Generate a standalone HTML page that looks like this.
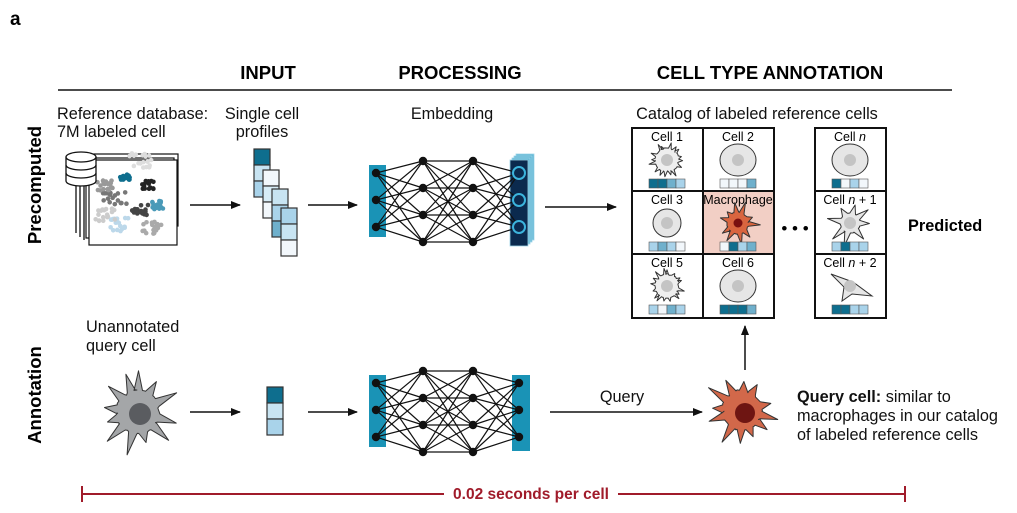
<!DOCTYPE html>
<html><head><meta charset="utf-8"><style>
body{margin:0;background:#fff;width:1017px;height:513px;overflow:hidden}
svg{display:block;font-family:"Liberation Sans",Arial,sans-serif}
</style></head><body>
<svg id="s" width="1017" height="513" viewBox="0 0 1017 513">
<defs><marker id="ah" markerWidth="10" markerHeight="8" refX="9" refY="4" orient="auto" markerUnits="userSpaceOnUse"><path d="M0,0 L10,4 L0,8 z" fill="#111"/></marker></defs>
<text x="10" y="25" font-size="19" font-weight="bold">a</text>
<line x1="58" y1="90" x2="952" y2="90" stroke="#111" stroke-width="1.5"/>
<g font-size="18.5" font-weight="bold" text-anchor="middle">
<text x="268" y="79">INPUT</text><text x="460" y="79">PROCESSING</text><text x="770" y="79">CELL TYPE ANNOTATION</text></g>
<g font-size="18.5" font-weight="bold" text-anchor="middle">
<text transform="translate(41,185) rotate(-90)">Precomputed</text>
<text transform="translate(41,395) rotate(-90)">Annotation</text></g>
<g font-size="16.3" fill="#111">
<text x="57" y="119">Reference database:</text><text x="57" y="137">7M labeled cell</text>
<text x="262" y="119" text-anchor="middle">Single cell</text><text x="262" y="137" text-anchor="middle">profiles</text>
<text x="452" y="119" text-anchor="middle">Embedding</text>
<text x="757" y="119" text-anchor="middle">Catalog of labeled reference cells</text>
<text x="86" y="332">Unannotated</text><text x="86" y="351">query cell</text>
<text x="622" y="402" text-anchor="middle">Query</text>
<text x="797" y="402"><tspan font-weight="bold">Query cell:</tspan> similar to</text>
<text x="797" y="421">macrophages in our catalog</text>
<text x="797" y="440">of labeled reference cells</text>
</g>
<text x="908" y="231" font-size="16.3" font-weight="bold">Predicted</text>
<text x="795" y="234" font-size="17" text-anchor="middle">• • •</text>
<g stroke="#111" fill="#fff" stroke-width="1.2">
<rect x="94" y="154" width="84" height="72"/><rect x="90" y="158" width="84" height="74"/><rect x="86" y="162" width="84" height="76"/><rect x="89" y="160" width="88" height="85"/>
</g>
<g id="scatter"></g>
<g stroke="#111" fill="#fff" stroke-width="1.3">
<line x1="76" y1="185" x2="76" y2="233"/><line x1="80" y1="185" x2="80" y2="237"/><line x1="84" y1="185" x2="84" y2="240"/>
<path d="M66,157 v24 a15,5 0 0 0 30,0 v-24"/><ellipse cx="81" cy="157" rx="15" ry="5"/>
<path d="M66,165 a15,5 0 0 0 30,0 M66,173 a15,5 0 0 0 30,0" fill="none"/>
</g>
<g stroke="#111" stroke-width="1.5" marker-end="url(#ah)">
<line x1="190" y1="205" x2="240" y2="205"/><line x1="308" y1="205" x2="357" y2="205"/><line x1="545" y1="207" x2="616" y2="207"/>
<line x1="190" y1="412" x2="240" y2="412"/><line x1="308" y1="412" x2="357" y2="412"/><line x1="550" y1="412" x2="702" y2="412"/>
<line x1="745" y1="370" x2="745" y2="326"/>
</g>
<g id="prof" stroke="#333" stroke-width="1.2"></g>
<g id="nets"></g>
<g id="grid"></g>
<g id="cells"></g>
<line x1="82" y1="494" x2="905" y2="494" stroke="#a01b2a" stroke-width="2"/>
<line x1="82" y1="486" x2="82" y2="502" stroke="#a01b2a" stroke-width="2"/>
<line x1="905" y1="486" x2="905" y2="502" stroke="#a01b2a" stroke-width="2"/>
<rect x="444" y="484" width="174" height="20" fill="#fff"/>
<text x="531" y="499" font-size="15.5" font-weight="bold" fill="#a01b2a" text-anchor="middle">0.02 seconds per cell</text>
</svg>
<script>
var NS="http://www.w3.org/2000/svg";
function el(p,t,a){var e=document.createElementNS(NS,t);for(var k in a)e.setAttribute(k,a[k]);document.getElementById(p).appendChild(e);return e;}
var seed=3;function rnd(){seed=(seed*9301+49297)%233280;return seed/233280;}
var cl=[[125,178,"#0e6e8e",5],[148,185,"#222",6],[140,160,"#ddd",12],[115,200,"#777",12],[140,210,"#444",8],[158,205,"#4a9ab8",6],[120,225,"#bcd8ea",10],[152,228,"#aaa",10],[105,185,"#999",8],[105,215,"#ccc",10]];
cl.forEach(function(c){for(var i=0;i<18;i++)el("scatter","circle",{cx:c[0]+(rnd()-.5)*c[3]*2,cy:c[1]+(rnd()-.5)*c[3]*1.4,r:2.3,fill:c[2]});});
function col(x,y,cs){cs.forEach(function(c,i){el("prof","rect",{x:x,y:y+i*16,width:16,height:16,fill:c});});}
col(254,149,["#0e6e8e","#c8e4f2","#a9d3ea"]);col(263,170,["#f2f7fb","#d7ecf6","#f2f7fb"]);col(272,189,["#c8e4f2","#a9d3ea","#6fb0cc"]);col(281,208,["#a9d3ea","#c8e4f2","#f2f7fb"]);
col(267,387,["#0e6e8e","#c8e4f2","#a9d3ea"]);
function net(dy,stack){
 var L=[[376,[173,200,227]],[423,[161,188,215,242]],[473,[161,188,215,242]],[519,[173,200,227]]];
 el("nets","rect",{x:369,y:165+dy,width:17,height:72,fill:"#1a93b6"});
 if(stack){for(var i=3;i>=0;i--)el("nets","rect",{x:510+i*2,y:160+dy-i*2,width:18,height:86,fill:i?"#5fb7d4":"#0b2a4e",stroke:"#9dd4e8","stroke-width":0.8});}
 else el("nets","rect",{x:512,y:165+dy,width:18,height:76,fill:"#1a93b6"});
 for(var l=0;l<3;l++)L[l][1].forEach(function(a){L[l+1][1].forEach(function(b){el("nets","line",{x1:L[l][0],y1:a+dy,x2:L[l+1][0],y2:b+dy,stroke:"#111","stroke-width":1.2});});});
 L.forEach(function(ly,li){ly[1].forEach(function(y){if(li==3&&stack){el("nets","circle",{cx:ly[0],cy:y+dy,r:6,fill:"#0b2a4e",stroke:"#3cb4dc","stroke-width":2});}else el("nets","circle",{cx:ly[0],cy:y+dy,r:4.2,fill:"#111"});});});
}
net(0,true);net(210,false);
el("grid","rect",{x:703,y:191,width:71,height:63,fill:"#f2cfc5"});
[[632,774],[815,886]].forEach(function(g){
 el("grid","rect",{x:g[0],y:128,width:g[1]-g[0],height:190,fill:"none",stroke:"#111","stroke-width":2});
 el("grid","line",{x1:g[0],y1:191,x2:g[1],y2:191,stroke:"#111","stroke-width":2});
 el("grid","line",{x1:g[0],y1:254,x2:g[1],y2:254,stroke:"#111","stroke-width":2});
});
el("grid","line",{x1:703,y1:128,x2:703,y2:318,stroke:"#111","stroke-width":2});
var P={d:"#0e6e8e",m:"#6fb0cc",l:"#a9d3ea",w:"#f2f7fb"};
var cells=[[667,128,"Cell 1","ddml",1],[738,128,"Cell 2","wwwm",2],[850,128,"Cell <tspan font-style='italic'>n</tspan>","dwlw",2],
[667,191,"Cell 3","lmlw",3],[738,191,"Macrophage","wdlm",4],[850,191,"Cell <tspan font-style='italic'>n</tspan> + 1","ldll",5],
[667,254,"Cell 5","lwml",1],[738,254,"Cell 6","dddm",6],[850,254,"Cell <tspan font-style='italic'>n</tspan> + 2","ddll",7]];
function spiky(cx,cy,r,n,amp,fill,w){w=w||0.12;var s="";for(var i=0;i<n;i++){var a=i*2*Math.PI/n+rnd()*0.3,len=amp*(0.5+rnd()*0.8);
 function p(ang,rr){s+=(cx+rr*Math.cos(ang)).toFixed(1)+","+(cy+rr*Math.sin(ang)).toFixed(1)+" ";}
 p(a-w*1.5,r);p(a,r+len);p(a+w*1.5,r);p(a+Math.PI/n,r*(0.9+rnd()*0.15));}
 return el("cells","polygon",{points:s,fill:fill,stroke:"#333","stroke-width":1,"stroke-linejoin":"round"});}
cells.forEach(function(c){
 var t=el("cells","text",{x:c[0],y:c[1]+13,"font-size":"12.5","text-anchor":"middle"});t.innerHTML=c[2];
 var cx=c[0],cy=c[1]+32;
 if(c[4]==1)spiky(cx,cy,12,16,5,"#eee",0.08);
 else if(c[4]==3)el("cells","circle",{cx:cx,cy:cy,r:14,fill:"#e6e6e6",stroke:"#333"});
 else if(c[4]==4)spiky(cx,cy,11,10,9,"#d9653f",0.15);
 else if(c[4]==5)spiky(cx,cy,10,8,11,"#e6e6e6",0.2);
 else if(c[4]==7)el("cells","path",{d:"M"+(cx-19)+","+(cy-12)+" L"+(cx+3)+","+(cy-4)+" L"+(cx+22)+","+(cy+10)+" L"+(cx+2)+","+(cy+8)+" L"+(cx-8)+","+(cy+15)+" L"+(cx-6)+","+(cy+1)+"z",fill:"#e6e6e6",stroke:"#333"});
 else el("cells","ellipse",{cx:cx,cy:cy,rx:18,ry:16,fill:"#e6e6e6",stroke:"#333"});
 el("cells","circle",{cx:cx,cy:cy,r:c[4]==4?4.5:6,fill:c[4]==4?"#7a1010":"#c4c4c4"});
 for(var i=0;i<4;i++)el("cells","rect",{x:cx-18+i*9,y:c[1]+51,width:9,height:9,fill:P[c[3][i]],stroke:"#555","stroke-width":0.6});
});
spiky(138,412,22,12,18,"#a4a6a8",0.13);el("cells","circle",{cx:140,cy:414,r:11,fill:"#5a5c60"});
spiky(742,410,20,12,16,"#d2684a",0.13);el("cells","circle",{cx:745,cy:413,r:10,fill:"#6e1512"});
</script>
</body></html>
